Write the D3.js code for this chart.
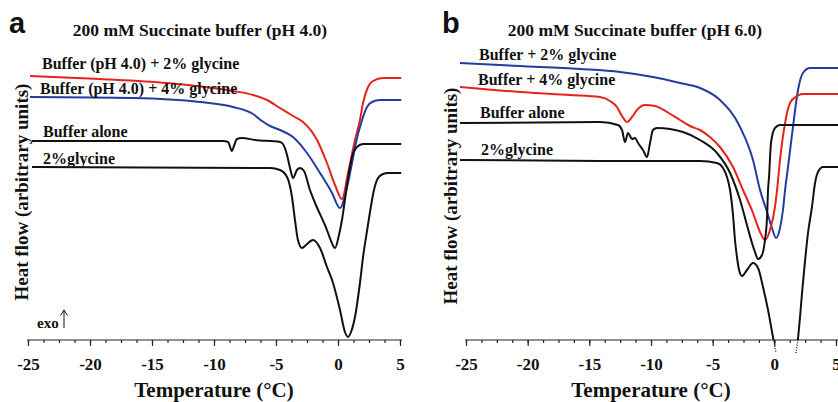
<!DOCTYPE html>
<html>
<head>
<meta charset="utf-8">
<script src="https://cdn.jsdelivr.net/npm/d3@7"></script>
<style>
  body { margin: 0; background: #fff; }
  svg { display: block; }
  text { font-family: "Liberation Serif", "Times New Roman", serif; font-weight: bold; fill: #111; }
</style>
</head>
<body>
<svg id="chart" width="838" height="402"></svg>
<script>
// Temperature (°C) / heat flow (arbitrary units) pairs

// panel a : 200 mM succinate, pH 4.0
var redA = [[-24.84, 26.4], [-19.19, 26.1], [-13.79, 25.7], [-8.47, 24.9], [-6.85, 24.5], [-5.73, 24.0], [-4.68, 23.2],
	[-3.63, 22.4], [-2.82, 21.8], [-1.69, 20.0], [-0.89, 17.7], [-0.24, 15.5], [0.32, 14.1], [0.81, 16.7], [1.37, 20.0],
	[1.77, 22.0], [2.02, 23.7], [2.42, 25.3], [2.82, 25.9], [3.63, 26.2], [5.1, 26.2]];
var blueA = [[-24.84, 24.3], [-16.53, 24.2], [-11.13, 23.8], [-8.47, 23.3], [-6.85, 22.6], [-6.13, 21.9], [-5.48, 21.4],
	[-4.68, 21.0], [-3.63, 20.3], [-2.50, 18.7], [-1.45, 16.7], [-0.48, 14.7], [0.16, 13.2], [0.73, 15.3], [1.13, 17.7],
	[1.37, 19.3], [1.94, 22.0], [2.34, 23.3], [2.74, 23.8], [3.39, 24.0], [5.1, 24.0]];
var bufferA = [[-24.68, 19.9], [-9.27, 19.9], [-8.87, 19.8], [-8.55, 18.9], [-8.39, 19.4], [-8.15, 20.1], [-7.74, 20.2],
	[-6.69, 20.0], [-4.68, 19.8], [-4.44, 19.6], [-4.11, 18.5], [-3.87, 17.2], [-3.63, 16.2], [-3.31, 17.0], [-3.06, 17.2],
	[-2.74, 16.9], [-2.26, 15.0], [-1.85, 13.7], [-0.89, 11.0], [-0.56, 9.9], [-0.24, 9.2], [0.08, 10.5], [0.32, 12.0],
	[0.73, 15.5], [1.13, 18.3], [1.53, 19.3], [2.02, 19.6], [5.1, 19.6]];
var glyA = [[-24.68, 17.3], [-5.48, 17.2], [-4.68, 17.0], [-4.11, 16.3], [-3.71, 14.3], [-3.47, 12.0], [-3.23, 10.0],
	[-2.90, 9.2], [-2.58, 9.5], [-2.02, 10.0], [-1.45, 9.2], [-0.89, 7.3], [-0.40, 5.7], [0.16, 3.0], [0.56, 0.8],
	[0.81, 0.3], [1.05, 0.8], [1.37, 2.3], [1.77, 5.7], [2.02, 8.3], [2.34, 10.9], [2.58, 12.8], [2.90, 15.0],
	[3.23, 16.2], [3.63, 16.6], [4.03, 16.7], [5.1, 16.7]];

// panel b : 200 mM succinate, pH 6.0
var blueB = [[-25.49, 27.7], [-20.62, 27.4], [-15.76, 27.1], [-12.51, 26.8], [-9.84, 26.3], [-7.65, 25.7], [-6.03, 25.2],
	[-4.41, 24.0], [-2.78, 21.3], [-1.73, 18.0], [-1.16, 15.0], [-0.59, 12.8], [-0.19, 11.2], [0.14, 10.2], [0.46, 11.2],
	[0.70, 13.0], [0.87, 15.0], [1.11, 17.3], [1.51, 21.3], [1.92, 25.0], [2.32, 26.7], [2.89, 27.2], [5.16, 27.2]];
var redB = [[-25.49, 25.3], [-20.62, 24.8], [-16.57, 24.5], [-14.14, 24.3], [-13.32, 23.9], [-12.76, 23.3], [-12.35, 22.4],
	[-11.95, 21.8], [-11.54, 22.3], [-11.14, 23.0], [-10.49, 23.5], [-9.68, 23.4], [-8.70, 22.8], [-7.65, 22.0],
	[-6.84, 21.4], [-6.03, 21.0], [-5.22, 20.3], [-4.41, 19.3], [-3.35, 17.3], [-2.54, 15.0], [-1.73, 12.7],
	[-1.16, 10.8], [-0.76, 10.0], [-0.35, 11.0], [0.05, 13.3], [0.22, 15.0], [0.46, 18.0], [0.87, 21.7], [1.27, 23.7],
	[1.84, 24.4], [2.32, 24.6], [5.16, 24.6]];
var bufferB = [[-25.49, 21.7], [-14.14, 21.8], [-12.68, 21.5], [-12.35, 21.0], [-12.11, 19.8], [-11.86, 20.7],
	[-11.54, 20.1], [-11.30, 20.2], [-11.05, 19.7], [-10.65, 19.0], [-10.32, 18.3], [-10.08, 19.7], [-9.84, 21.0],
	[-9.51, 21.2], [-7.41, 20.8], [-6.03, 20.0], [-4.65, 18.7], [-3.59, 16.7], [-2.78, 14.0], [-2.22, 11.5],
	[-1.81, 9.7], [-1.57, 8.8], [-1.32, 8.1], [-1.00, 8.5], [-0.76, 10.0], [-0.59, 12.3], [-0.51, 15.0], [-0.43, 16.3],
	[-0.27, 19.7], [0.05, 21.2], [0.46, 21.5], [5.16, 21.5]];
// goes off scale below the axis : null marks the gap
var glyB = [[-25.49, 18.0], [-14.14, 17.9], [-6.03, 17.9], [-4.65, 17.7], [-4.16, 17.2], [-3.84, 16.3], [-3.59, 15.0],
	[-3.35, 12.5], [-3.19, 10.0], [-3.03, 8.3], [-2.86, 7.0], [-2.62, 6.4], [-2.22, 7.0], [-1.73, 7.7], [-1.32, 7.2],
	[-0.92, 5.3], [-0.51, 3.0], [-0.11, 0.3], [0.14, -1.3], [0.95, null], [1.76, -1.3], [1.92, 0.2], [2.32, 5.7],
	[2.73, 10.7], [3.05, 13.3], [3.30, 15.7], [3.54, 16.8], [3.95, 17.3], [5.16, 17.3]];

var majorTicks = [-25, -20, -15, -10, -5, 0, 5];
var minorTicks = d3.range(-25, 5.01, 1.25);

var titlesA = "200 mM Succinate buffer (pH 4.0)";
var titlesB = "200 mM Succinate buffer (pH 6.0)";
var labelsA = ["Buffer (pH 4.0) + 2% glycine", "Buffer (pH 4.0) + 4% glycine", "Buffer alone", "2%glycine"];
var labelsB = ["Buffer + 2% glycine", "Buffer + 4% glycine", "Buffer alone", "2%glycine"];

var RED = "#e5231c", BLUE = "#233c9f", BLACK = "#111";

var svg = d3.select("#chart");
var axisY = 340;

// shared vertical scale (arbitrary units)
var y = d3.scaleLinear().domain([0, 30]).range([axisY, 40]);

var panels = [
	{ letter: "a", letterX: 9, x0: 28, x1: 400, title: titlesA, titleX: 200, ylabX: 28, ylabY: 192,
	  series: [redA, blueA, bufferA, glyA], colors: [RED, BLUE, BLACK, BLACK],
	  labels: labelsA, labelPos: [[42, 69], [40, 94], [43, 137], [43, 164]], exo: true },
	{ letter: "b", letterX: 442, x0: 466, x1: 836, title: titlesB, titleX: 635, ylabX: 457, ylabY: 196,
	  series: [blueB, redB, bufferB, glyB], colors: [BLUE, RED, BLACK, BLACK],
	  labels: labelsB, labelPos: [[479, 60], [478, 85], [480, 118], [481, 155]], exo: false }
];

// clip areas for off-scale trace (solid above axis, dotted below)
var defs = svg.append("defs");
defs.append("clipPath").attr("id", "above").append("rect")
	.attr("x", 0).attr("y", 0).attr("width", 838).attr("height", axisY);
defs.append("clipPath").attr("id", "below").append("rect")
	.attr("x", 0).attr("y", axisY).attr("width", 838).attr("height", 62);

panels.forEach(function(p){
	var x = d3.scaleLinear().domain([-25, 5]).range([p.x0, p.x1]);
	var g = svg.append("g");

	var line = d3.line()
		.defined(function(d){ return d[1] !== null; })
		.x(function(d){ return x(d[0]); })
		.y(function(d){ return y(d[1]); })
		.curve(d3.curveMonotoneX);

	// axis line
	g.append("line")
		.attr("x1", p.x0 - 1).attr("x2", p.x1 + 2)
		.attr("y1", axisY).attr("y2", axisY)
		.attr("stroke", "#222").attr("stroke-width", 1.2);

	var minor = g.append("g").attr("transform", "translate(0," + axisY + ")")
		.call(d3.axisBottom(x).tickValues(minorTicks).tickSize(3).tickSizeOuter(0).tickFormat(""));
	var major = g.append("g").attr("transform", "translate(0," + axisY + ")")
		.call(d3.axisBottom(x).tickValues(majorTicks).tickSize(6).tickSizeOuter(0)
			.tickFormat(function(d){ return String(d); }));
	[minor, major].forEach(function(a){
		a.select(".domain").remove();
		a.selectAll(".tick line").attr("stroke", "#222").attr("stroke-width", 1.2);
	});
	major.selectAll(".tick text")
		.attr("y", 30).attr("dy", null)
		.attr("fill", "#111")
		.style("font-family", '"Liberation Serif", serif')
		.style("font-weight", "bold")
		.style("font-size", "17px");

	// traces
	p.series.forEach(function(s, i){
		var hasGap = s.some(function(d){ return d[1] === null || d[1] < 0; });
		g.append("path")
			.attr("d", line(s))
			.attr("fill", "none")
			.attr("stroke", p.colors[i])
			.attr("stroke-width", 2)
			.attr("clip-path", hasGap ? "url(#above)" : null);
		if(hasGap){
			g.append("path")
				.attr("d", line(s))
				.attr("fill", "none")
				.attr("stroke", p.colors[i])
				.attr("stroke-width", 1.3)
				.attr("stroke-dasharray", "1,1.5")
				.attr("clip-path", "url(#below)");
		}
	});

	// legend labels beside the traces
	p.labels.forEach(function(l, i){
		g.append("text")
			.attr("x", p.labelPos[i][0]).attr("y", p.labelPos[i][1])
			.style("font-size", "16px")
			.text(l);
	});

	// titles
	g.append("text")
		.attr("x", p.letterX).attr("y", 33)
		.style("font-family", '"Liberation Sans", Arial, sans-serif')
		.style("font-size", "29px")
		.text(p.letter);
	g.append("text")
		.attr("x", p.titleX).attr("y", 36)
		.attr("text-anchor", "middle")
		.style("font-size", "17.5px")
		.text(p.title);

	g.append("text")
		.attr("x", (p.x0 + p.x1) / 2).attr("y", 397)
		.attr("text-anchor", "middle")
		.style("font-size", "21px")
		.text("Temperature (\u00B0C)");

	g.append("text")
		.attr("transform", "translate(" + p.ylabX + "," + p.ylabY + ") rotate(-90)")
		.attr("text-anchor", "middle")
		.style("font-size", "19px")
		.text("Heat flow (arbitrary units)");

	if(p.exo){
		g.append("text").attr("x", 37).attr("y", 328).style("font-size", "15px").text("exo");
		g.append("path")
			.attr("d", "M64,328V310M60.5,315.5L64,310L67.5,315.5")
			.attr("fill", "none").attr("stroke", "#111").attr("stroke-width", 1);
	}
});
</script>
</body>
</html>
